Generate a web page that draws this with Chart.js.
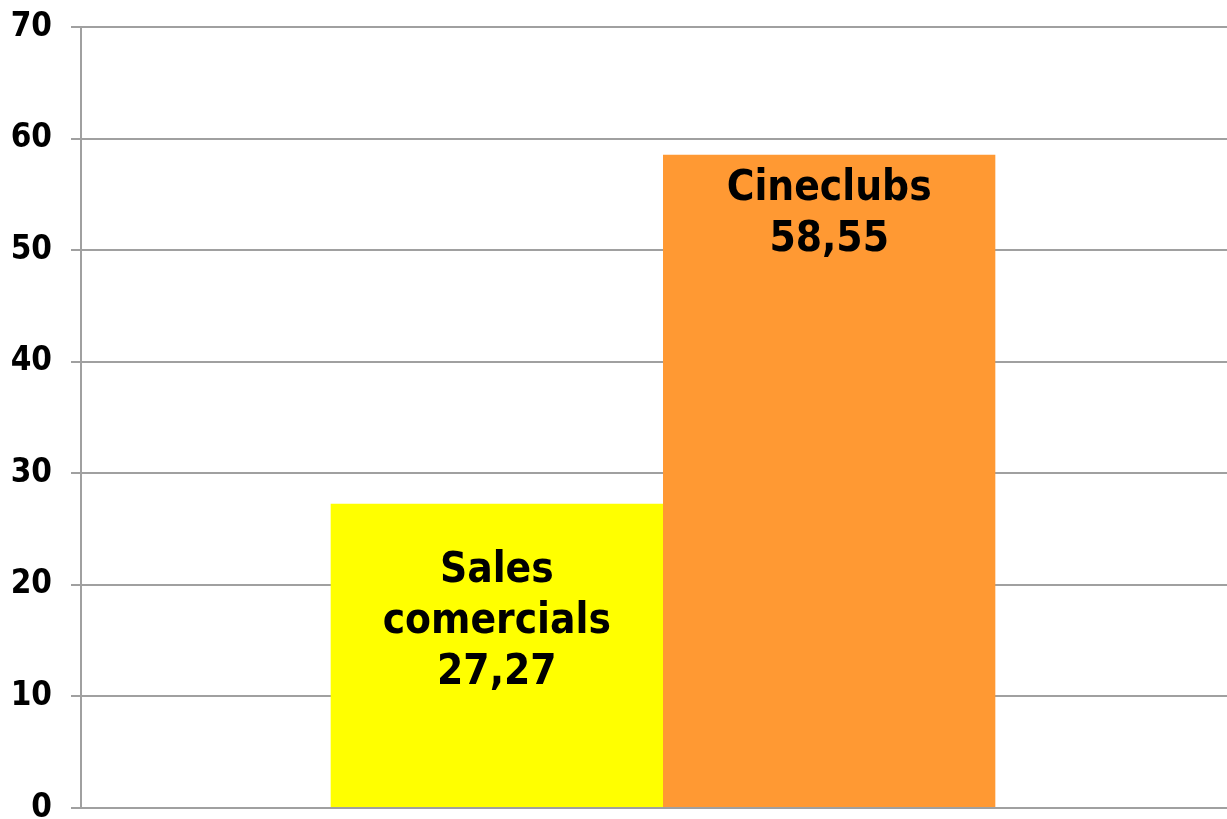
<!DOCTYPE html>
<html>
<head>
<meta charset="utf-8">
<script src="https://cdn.jsdelivr.net/npm/chart.js@4/dist/chart.umd.min.js"></script>
<style>
    html, body { margin: 0; padding: 0; overflow: hidden; background: #fff; }
    #wrap { width: 1245px; height: 819px; }
</style>
</head>
<body>
<div id="wrap"><canvas id="myChart1"></canvas></div>
<script>
// 데이터
const categories = [''];
const seriesNames = [['Sales', 'comercials'], ['Cineclubs']];
const seriesValues = [27.27, 58.55];
const seriesColors = ['#ffff00', '#ff9933'];
const yTicks = [0, 10, 20, 30, 40, 50, 60, 70];

// 막대 안쪽 라벨 (첫 줄 기준선 = 막대 윗변 + offset)
const labelOffsets = [78, 45];
const fontFamily = '"DejaVu Sans Condensed", "DejaVu Sans", Tahoma, sans-serif';

const barLabels = {
    id: 'barLabels',
    afterDatasetsDraw(chart) {
        const ctx = chart.ctx;
        ctx.save();
        ctx.font = 'bold 42px ' + fontFamily;
        ctx.fillStyle = '#000';
        ctx.textAlign = 'center';
        ctx.textBaseline = 'alphabetic';
        chart.data.datasets.forEach((ds, i) => {
            const bar = chart.getDatasetMeta(i).data[0];
            const lines = seriesNames[i].concat([ds.data[0].toFixed(2).replace('.', ',')]);
            lines.forEach((txt, j) => {
                ctx.fillText(txt, bar.x, bar.y + labelOffsets[i] + j * 51);
            });
        });
        ctx.restore();
    }
};

const ctx = document.getElementById('myChart1').getContext('2d');
const config = {
    type: 'bar',
    data: {
        labels: categories,
        datasets: seriesValues.map((v, i) => ({
            label: seriesNames[i].join(' '),
            data: [v],
            backgroundColor: seriesColors[i],
            borderWidth: 0
        }))
    },
    options: {
        responsive: true,
        maintainAspectRatio: false,
        animation: false,
        categoryPercentage: 0.571,
        barPercentage: 1,
        layout: { padding: { top: 27, bottom: 11, left: 0, right: 0 } },
        plugins: {
            legend: { display: false },
            tooltip: { enabled: false }
        },
        scales: {
            x: { display: false },
            y: {
                min: 0,
                max: 70,
                afterBuildTicks: (scale) => { scale.ticks = yTicks.map(v => ({ value: v })); },
                afterFit: (scale) => {
                    scale.width = 81;
                    scale.paddingTop = 0;
                    scale.paddingBottom = 0;
                },
                grid: {
                    color: '#a0a0a0',
                    lineWidth: 2,
                    tickLength: 10,
                    drawTicks: true
                },
                border: { color: '#a0a0a0', width: 2 },
                ticks: {
                    color: '#000',
                    padding: 19,
                    font: { family: fontFamily, size: 33, weight: 'bold' }
                }
            }
        }
    },
    plugins: [barLabels]
};
const myChart1 = new Chart(ctx, config);
</script>
</body>
</html>
